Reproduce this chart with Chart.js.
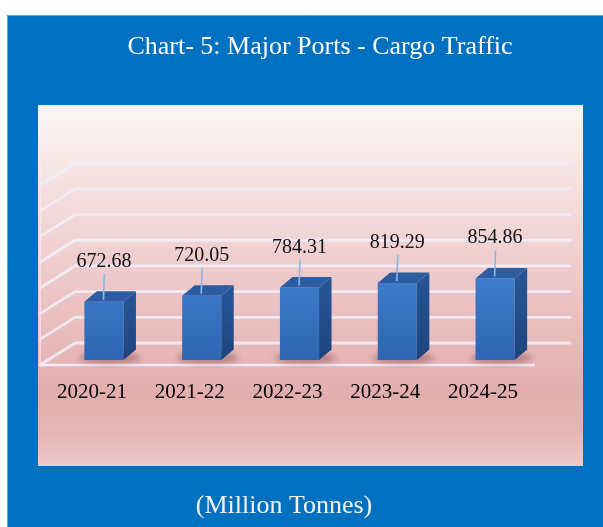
<!DOCTYPE html>
<html>
<head>
<meta charset="utf-8">
<script src="https://cdn.jsdelivr.net/npm/chart.js@4.4.1/dist/chart.umd.min.js"></script>
<style>
  html, body { margin: 0; padding: 0; background: #ffffff; }
  #wrap { width: 603px; height: 527px; }
</style>
</head>
<body>
<div id="wrap"><canvas id="c" width="603" height="527"></canvas></div>
<script>
// ---- data ----
const categories = ['2020-21', '2021-22', '2022-23', '2023-24', '2024-25'];
const cargoTraffic = [672.68, 720.05, 784.31, 819.29, 854.86];
const valueLabels = ['672.68', '720.05', '784.31', '819.29', '854.86'];
const titleText = 'Chart- 5: Major Ports - Cargo Traffic';
const unitText = '(Million Tonnes)';
const yMin = 220, yMax = 1620, yStep = 200;

// ---- 3D geometry (style only) ----
const BAR_DX = 12.5, BAR_DY = 10.5;      // bar depth
const WALL_BACK_DX = 20, WALL_BACK_DY = 17;
const WALL_FRONT_DX = 15, WALL_FRONT_DY = 5;
const SERIF = "'Liberation Serif', 'Times New Roman', serif";

function barGeom(chart, el) {
  const p = el.getProps(['x', 'y', 'width', 'base'], true);
  const bottom = Math.min(p.base, chart.chartArea.bottom);
  return { x: p.x, y: p.y, width: p.width, bottom };
}

const backgroundPlugin = {
  id: 'bg',
  beforeDraw(chart) {
    const c = chart.ctx;
    c.save();
    c.fillStyle = '#ffffff';
    c.fillRect(0, 0, chart.width, chart.height);
    // blue frame
    c.fillStyle = '#0070C0';
    c.fillRect(7, 15, chart.width - 7, chart.height - 15);
    c.strokeStyle = '#5aa9d6';
    c.lineWidth = 1;
    c.beginPath();
    c.moveTo(7.5, chart.height); c.lineTo(7.5, 15.5); c.lineTo(chart.width, 15.5);
    c.stroke();
    // inner plot panel
    const g = c.createLinearGradient(0, 105, 0, 466);
    g.addColorStop(0, '#FCF6F5');
    g.addColorStop(0.25, '#F5DEDE');
    g.addColorStop(0.55, '#ECC2C3');
    g.addColorStop(0.8, '#E3ADAD');
    g.addColorStop(0.9, '#E5B4B4');
    g.addColorStop(1, '#EDCACB');
    c.fillStyle = g;
    c.fillRect(38, 105, 545, 361);
    c.restore();
  },
  beforeDatasetsDraw(chart) {
    const c = chart.ctx;
    const ys = chart.scales.y;
    const area = chart.chartArea;
    const fl = area.left - WALL_FRONT_DX, bl = area.left + WALL_BACK_DX;
    const fr = area.right - 10, br = area.right + 26;
    c.save();
    c.lineCap = 'round';
    // left wall edge
    c.strokeStyle = 'rgba(242,238,250,0.85)';
    c.lineWidth = 1.5;
    const topTick = ys.getPixelForValue(ys.max) - WALL_BACK_DY;
    c.beginPath();
    c.moveTo(fl, topTick - 5);
    c.lineTo(fl, ys.getPixelForValue(ys.min) + WALL_FRONT_DY);
    c.stroke();
    ys.ticks.forEach((t) => {
      const yf = ys.getPixelForValue(t.value);
      const yb = yf - WALL_BACK_DY;
      c.strokeStyle = 'rgba(240,237,248,0.9)';
      c.lineWidth = 2.8;
      c.beginPath();
      c.moveTo(fl, yf + WALL_FRONT_DY);
      c.lineTo(bl, yb);
      c.lineTo(br, yb);
      c.stroke();
    });
    // front floor edge
    const yfl = ys.getPixelForValue(ys.min) + WALL_FRONT_DY;
    c.strokeStyle = 'rgba(242,238,250,0.95)';
    c.lineWidth = 2.5;
    c.beginPath();
    c.moveTo(fl, yfl);
    c.lineTo(fr, yfl);
    c.stroke();
    // bar shadows
    const meta = chart.getDatasetMeta(0);
    meta.data.forEach((el) => {
      const p = barGeom(chart, el);
      c.save();
      c.filter = 'blur(3px)';
      c.fillStyle = 'rgba(105,45,45,0.45)';
      c.beginPath();
      c.ellipse(p.x + 6, p.bottom - 2, p.width / 2 + 11, 5, 0, 0, Math.PI * 2);
      c.fill();
      c.restore();
    });
    c.restore();
  },
  afterDatasetsDraw(chart) {
    const c = chart.ctx;
    const meta = chart.getDatasetMeta(0);
    c.save();
    meta.data.forEach((el, i) => {
      const p = barGeom(chart, el);
      const l = p.x - p.width / 2, r = p.x + p.width / 2;
      // top face
      c.fillStyle = '#2C5DA3';
      c.beginPath();
      c.moveTo(l, p.y); c.lineTo(l + BAR_DX, p.y - BAR_DY);
      c.lineTo(r + BAR_DX, p.y - BAR_DY); c.lineTo(r, p.y); c.closePath();
      c.fill();
      // side face
      const sg = c.createLinearGradient(0, p.y, 0, p.bottom);
      sg.addColorStop(0, '#275495');
      sg.addColorStop(1, '#1D447D');
      c.fillStyle = sg;
      c.beginPath();
      c.moveTo(r, p.y); c.lineTo(r + BAR_DX, p.y - BAR_DY);
      c.lineTo(r + BAR_DX, p.bottom - BAR_DY); c.lineTo(r, p.bottom); c.closePath();
      c.fill();
      // leader line and value label
      const baseline = p.y - 35;
      c.strokeStyle = '#8FB6E4';
      c.lineWidth = 1.6;
      c.beginPath();
      c.moveTo(p.x + 0.5, baseline + 7);
      c.lineTo(p.x - 0.5, p.y - 2);
      c.stroke();
      c.fillStyle = '#111111';
      c.font = '20px ' + SERIF;
      c.textAlign = 'center';
      c.textBaseline = 'alphabetic';
      c.fillText(valueLabels[i], p.x, baseline);
    });
    c.restore();
  },
  afterDraw(chart) {
    const c = chart.ctx;
    c.save();
    c.fillStyle = '#F4F4F4';
    c.font = '26px ' + SERIF;
    c.textAlign = 'center';
    c.textBaseline = 'alphabetic';
    c.fillText(unitText, 284, 513);
    c.restore();
  }
};

new Chart(document.getElementById('c'), {
  type: 'bar',
  data: {
    labels: categories,
    datasets: [{
      data: cargoTraffic,
      barPercentage: 0.4,
      categoryPercentage: 1.0,
      borderWidth: 0,
      backgroundColor(ctx) {
        const chart = ctx.chart;
        const area = chart.chartArea;
        if (!area) return '#3A78C6';
        const g = chart.ctx.createLinearGradient(0, area.bottom - 100, 0, area.bottom);
        g.addColorStop(0, '#4181CF');
        g.addColorStop(1, '#2E66B3');
        return g;
      }
    }]
  },
  options: {
    responsive: false,
    animation: false,
    events: [],
    layout: { padding: { left: 37, right: 0, top: 0, bottom: 127 } },
    plugins: {
      legend: { display: false },
      tooltip: { enabled: false },
      title: {
        display: true,
        text: titleText,
        color: '#ffffff',
        font: { family: SERIF, size: 26, weight: 'normal', lineHeight: 1.2 },
        padding: { top: 32, bottom: 117 }
      }
    },
    scales: {
      x: {
        grid: { display: false, drawTicks: false },
        border: { display: false },
        ticks: {
          color: '#000000',
          font: { family: SERIF, size: 21 },
          padding: 20,
          labelOffset: -12,
          maxRotation: 0,
          autoSkip: false
        },
        afterFit(scale) { scale.height = 40; }
      },
      y: {
        min: yMin,
        max: yMax,
        ticks: { stepSize: yStep, display: false },
        grid: { display: false },
        border: { display: false },
        afterFit(scale) { scale.width = 18; }
      },
      y2: {
        position: 'right',
        ticks: { display: false },
        grid: { display: false },
        border: { display: false },
        afterFit(scale) { scale.width = 59; }
      }
    }
  },
  plugins: [backgroundPlugin]
});
</script>
</body>
</html>
